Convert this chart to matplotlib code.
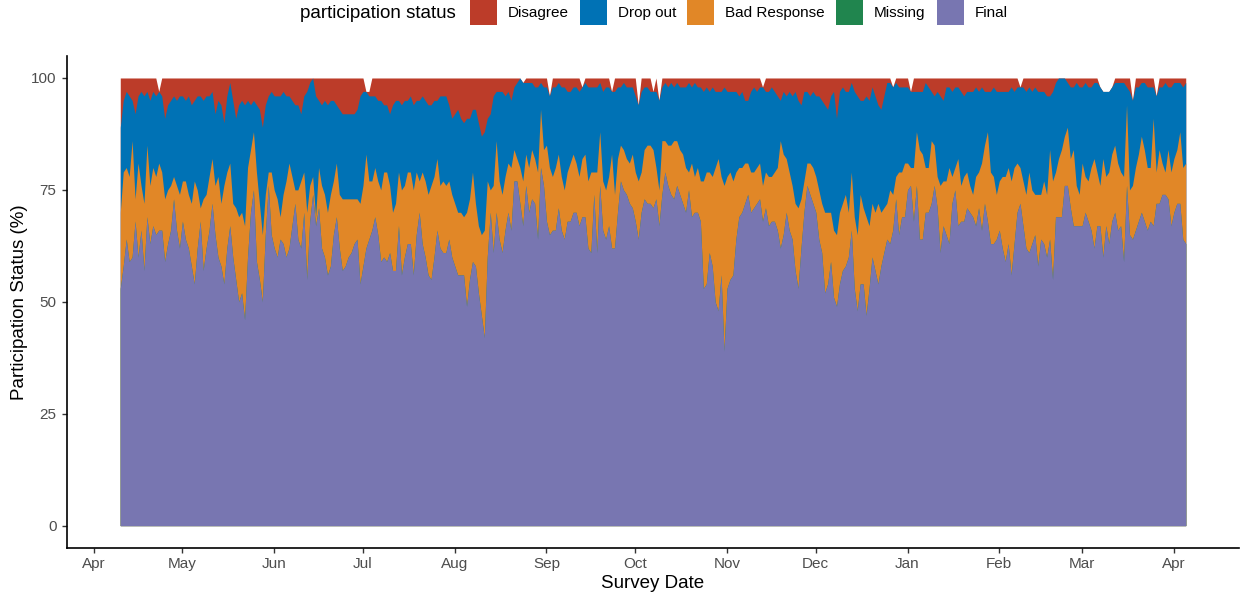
import matplotlib
matplotlib.use('Agg')
import matplotlib.dates as mdates
import matplotlib.pyplot as plt
import numpy as np
import pandas as pd
from matplotlib.patches import Rectangle

plt.rcParams['font.family'] = ['Liberation Sans', 'DejaVu Sans']

START_DATE = '2021-04-10'

# daily participation shares (%), one value per survey day
final = [
    53, 58, 64, 59, 60, 68, 60, 66, 57, 69,
    63, 67, 65, 66, 66, 59, 63, 66, 73, 66,
    62, 68, 64, 62, 58, 54, 62, 68, 57, 62,
    66, 72, 65, 60, 58, 54, 62, 67, 60, 55,
    50, 52, 46, 60, 70, 75, 59, 55, 50, 65,
    76, 65, 62, 60, 64, 63, 60, 62, 67, 72,
    64, 62, 70, 55, 68, 74, 67, 71, 62, 60,
    56, 58, 65, 69, 62, 57, 58, 60, 61, 63,
    64, 54, 58, 62, 64, 66, 69, 65, 59, 60,
    59, 61, 57, 57, 67, 56, 60, 63, 63, 56,
    65, 70, 63, 60, 56, 55, 60, 66, 62, 61,
    61, 64, 60, 58, 56, 56, 56, 49, 55, 59,
    58, 52, 47, 42, 60, 70, 61, 70, 64, 61,
    66, 70, 66, 77, 77, 72, 67, 76, 70, 73,
    72, 64, 80, 76, 68, 65, 66, 66, 71, 66,
    64, 68, 68, 70, 70, 67, 69, 69, 62, 61,
    74, 61, 76, 66, 64, 67, 62, 62, 70, 77,
    75, 74, 72, 71, 68, 64, 70, 73, 72, 72,
    71, 73, 67, 74, 79, 76, 74, 73, 76, 74,
    72, 70, 75, 69, 70, 70, 68, 53, 54, 61,
    58, 50, 48, 56, 39, 53, 55, 56, 64, 69,
    70, 72, 74, 70, 71, 72, 73, 68, 71, 67,
    68, 68, 66, 62, 65, 70, 66, 64, 57, 53,
    62, 70, 76, 74, 72, 70, 64, 61, 52, 54,
    59, 51, 49, 54, 57, 58, 60, 66, 53, 48,
    54, 54, 47, 53, 60, 57, 54, 58, 61, 64,
    63, 66, 73, 65, 69, 69, 75, 76, 68, 76,
    64, 64, 70, 70, 72, 76, 71, 61, 67, 65,
    63, 72, 75, 67, 68, 68, 71, 70, 69, 67,
    71, 66, 72, 68, 63, 63, 64, 66, 62, 59,
    63, 56, 63, 70, 72, 67, 62, 61, 63, 65,
    58, 64, 63, 60, 64, 55, 69, 69, 69, 76,
    76, 71, 67, 67, 67, 67, 70, 68, 66, 62,
    67, 67, 60, 67, 63, 68, 70, 66, 67, 59,
    76, 65, 64, 66, 68, 70, 68, 66, 68, 67,
    72, 72, 74, 74, 73, 67, 70, 72, 72, 64, 63,
]

bad_response = [
    17, 21, 16, 19, 26, 5, 21, 10, 15, 16,
    13, 13, 13, 15, 13, 14, 12, 10, 5, 10,
    12, 9, 13, 12, 14, 23, 13, 3, 16, 12,
    12, 10, 11, 18, 14, 22, 17, 14, 12, 16,
    19, 18, 21, 20, 14, 13, 20, 17, 15, 9,
    3, 14, 13, 13, 5, 11, 17, 19, 11, 3,
    11, 15, 9, 15, 8, 4, 2, 9, 14, 14,
    14, 16, 12, 12, 12, 16, 15, 13, 12, 10,
    9, 18, 18, 21, 13, 11, 11, 12, 16, 19,
    20, 15, 13, 15, 12, 19, 16, 16, 16, 19,
    14, 7, 16, 17, 18, 21, 18, 16, 14, 16,
    15, 13, 14, 14, 14, 14, 13, 21, 18, 20,
    14, 15, 18, 24, 17, 5, 15, 16, 13, 13,
    12, 11, 14, 7, 5, 8, 10, 7, 10, 11,
    10, 15, 13, 8, 17, 15, 12, 14, 12, 12,
    11, 11, 13, 13, 11, 11, 13, 14, 15, 18,
    5, 18, 12, 11, 11, 11, 21, 12, 12, 8,
    9, 8, 9, 12, 11, 13, 9, 11, 13, 13,
    13, 7, 8, 12, 7, 9, 11, 13, 10, 10,
    11, 10, 4, 12, 8, 10, 9, 24, 25, 18,
    20, 30, 34, 22, 37, 25, 24, 21, 15, 11,
    10, 9, 7, 9, 8, 8, 8, 8, 8, 11,
    10, 11, 14, 24, 18, 12, 13, 12, 15, 18,
    11, 7, 5, 7, 8, 8, 11, 11, 18, 16,
    11, 15, 16, 16, 15, 16, 10, 13, 16, 17,
    20, 17, 22, 14, 12, 13, 18, 12, 10, 8,
    12, 8, 5, 14, 10, 12, 6, 4, 12, 12,
    20, 19, 10, 10, 14, 9, 7, 15, 10, 12,
    17, 6, 5, 15, 8, 10, 8, 6, 5, 11,
    8, 15, 13, 20, 16, 15, 10, 11, 16, 19,
    17, 21, 17, 11, 8, 10, 12, 18, 12, 9,
    16, 10, 14, 14, 20, 22, 10, 13, 15, 11,
    13, 11, 17, 9, 7, 14, 8, 9, 14, 20,
    12, 9, 22, 11, 16, 15, 15, 15, 12, 19,
    18, 10, 12, 14, 15, 17, 16, 14, 12, 24,
    7, 12, 7, 5, 11, 12, 12, 12, 16, 16, 18,
]

drop_out = [
    19, 16, 17, 18, 9, 19, 15, 21, 24, 12,
    19, 17, 18, 16, 17, 18, 19, 19, 18, 19,
    22, 19, 18, 22, 22, 18, 21, 25, 22, 22,
    18, 15, 16, 17, 22, 14, 17, 18, 23, 20,
    25, 25, 27, 15, 10, 7, 15, 21, 24, 20,
    17, 18, 21, 23, 27, 23, 19, 15, 17, 19,
    19, 15, 17, 27, 23, 22, 27, 15, 18, 21,
    24, 21, 18, 13, 19, 19, 19, 19, 19, 19,
    20, 24, 21, 14, 19, 19, 16, 18, 20, 15,
    15, 16, 24, 23, 16, 19, 19, 16, 17, 19,
    16, 18, 17, 18, 20, 18, 17, 13, 20, 19,
    20, 17, 17, 20, 23, 21, 21, 21, 18, 14,
    21, 23, 22, 22, 14, 17, 20, 11, 20, 23,
    18, 16, 15, 14, 17, 20, 22, 16, 19, 15,
    16, 19, 6, 14, 13, 16, 20, 18, 16, 20,
    23, 18, 16, 15, 17, 19, 16, 16, 21, 19,
    19, 19, 11, 20, 23, 20, 14, 23, 16, 13,
    15, 16, 17, 15, 17, 17, 18, 14, 13, 12,
    13, 17, 20, 12, 13, 13, 14, 12, 13, 14,
    15, 18, 20, 17, 21, 18, 21, 20, 19, 18,
    20, 17, 15, 19, 22, 19, 18, 20, 18, 16,
    17, 14, 14, 18, 19, 17, 17, 22, 18, 19,
    20, 18, 16, 9, 14, 14, 18, 20, 25, 24,
    21, 20, 16, 15, 17, 18, 21, 23, 24, 23,
    26, 31, 26, 27, 26, 23, 27, 20, 28, 31,
    21, 24, 27, 28, 26, 26, 22, 23, 25, 27,
    24, 24, 21, 19, 19, 17, 17, 17, 17, 9,
    13, 14, 19, 18, 11, 11, 19, 20, 18, 21,
    18, 19, 18, 16, 21, 18, 18, 21, 23, 20,
    18, 17, 12, 9, 18, 20, 23, 20, 19, 19,
    17, 21, 17, 17, 18, 21, 23, 19, 22, 24,
    23, 23, 20, 22, 12, 20, 20, 18, 16, 13,
    10, 16, 14, 23, 24, 17, 21, 21, 18, 17,
    20, 22, 15, 19, 18, 15, 14, 18, 20, 21,
    4, 22, 19, 18, 15, 12, 15, 18, 18, 7,
    17, 14, 17, 20, 14, 19, 17, 15, 11, 18, 18,
]

disagree = [
    11, 5, 3, 4, 5, 8, 4, 3, 4, 3,
    5, 3, 4, 0, 4, 9, 6, 5, 4, 5,
    4, 4, 5, 4, 6, 5, 4, 4, 5, 4,
    4, 3, 8, 5, 6, 10, 4, 1, 5, 9,
    6, 5, 6, 5, 6, 5, 6, 7, 11, 6,
    4, 3, 4, 4, 4, 3, 4, 4, 5, 6,
    6, 8, 4, 3, 1, 0, 4, 5, 6, 5,
    6, 5, 5, 6, 7, 8, 8, 8, 8, 8,
    7, 4, 3, 0, 1, 4, 4, 5, 5, 6,
    6, 8, 6, 5, 5, 6, 5, 5, 4, 6,
    5, 5, 4, 5, 6, 6, 5, 5, 4, 4,
    4, 6, 9, 8, 7, 9, 10, 9, 9, 7,
    7, 10, 13, 12, 9, 8, 4, 3, 3, 3,
    4, 3, 5, 2, 1, 0, 0, 1, 1, 1,
    2, 2, 1, 2, 2, 0, 2, 2, 1, 2,
    2, 3, 3, 2, 2, 3, 0, 1, 2, 2,
    2, 2, 1, 3, 2, 2, 0, 3, 2, 2,
    1, 2, 2, 2, 4, 0, 3, 2, 2, 3,
    0, 3, 0, 2, 1, 2, 1, 2, 1, 2,
    2, 2, 1, 2, 1, 2, 2, 3, 2, 3,
    2, 3, 3, 3, 2, 3, 3, 3, 3, 4,
    3, 5, 5, 3, 2, 3, 2, 0, 3, 3,
    2, 3, 4, 5, 3, 4, 3, 4, 3, 5,
    6, 3, 3, 4, 3, 4, 4, 5, 6, 7,
    4, 3, 9, 3, 2, 3, 3, 1, 3, 4,
    5, 5, 4, 5, 2, 4, 6, 7, 4, 1,
    1, 0, 1, 2, 2, 2, 2, 0, 3, 3,
    3, 3, 1, 2, 3, 4, 3, 4, 5, 2,
    2, 3, 2, 2, 3, 4, 3, 3, 3, 2,
    3, 2, 3, 3, 3, 2, 3, 3, 3, 3,
    3, 2, 3, 2, 0, 2, 3, 2, 3, 2,
    3, 3, 3, 4, 4, 3, 1, 0, 0, 0,
    1, 2, 2, 1, 2, 2, 1, 2, 2, 1,
    1, 0, 0, 0, 0, 0, 1, 1, 1, 1,
    2, 3, 0, 2, 2, 1, 1, 2, 2, 2,
    0, 2, 2, 1, 2, 2, 1, 1, 1, 2, 1,
]

missing = [0] * len(final)

# legend order (top of stack first)
LABELS = ['Disagree', 'Drop out', 'Bad Response', 'Missing', 'Final']
COLORS = ['#BC3C29', '#0072B5', '#E18727', '#20854E', '#7876B1']

W, H = 1240, 592


def draw_legend(fig):
    fig.text(300 / W, 1 - 13 / H, 'participation status', fontsize=13.5,
             ha='left', va='center')
    key_x = [470, 580, 687, 836, 937]
    text_x = [508, 618, 725, 874, 975]
    for label, color, kx, tx in zip(LABELS, COLORS, key_x, text_x):
        fig.add_artist(Rectangle((kx / W, 1 - 25 / H), 27 / W, 28 / H,
                                 transform=fig.transFigure, facecolor=color,
                                 edgecolor='none'))
        fig.text(tx / W, 1 - 13 / H, label, fontsize=11, ha='left', va='center')


def plot_participation():
    series = [final, missing, bad_response, drop_out, disagree]
    for s in series:
        assert len(s) == len(final)
    dates = pd.date_range(START_DATE, periods=len(final), freq='D')
    stacked = np.cumsum(np.array(series, dtype=float), axis=0)

    fig = plt.figure(figsize=(W / 100, H / 100), dpi=100)
    ax = fig.add_axes([67 / W, 44 / H, 1172 / W, 492.4 / H])

    # paint from the top layer down so no seams show between areas
    bottom_up_colors = COLORS[::-1]
    for level in range(len(series) - 1, -1, -1):
        ax.fill_between(dates, 0, stacked[level], color=bottom_up_colors[level],
                        linewidth=0)

    pad = pd.Timedelta(days=0.05 * (len(final) - 1))
    ax.set_xlim(dates[0] - pad, dates[-1] + pad)
    ax.set_ylim(-5, 105)
    ax.set_yticks([0, 25, 50, 75, 100])

    ax.xaxis.set_major_locator(mdates.MonthLocator())
    ax.xaxis.set_major_formatter(mdates.DateFormatter('%b'))

    for side in ['top', 'right']:
        ax.spines[side].set_visible(False)
    for side in ['left', 'bottom']:
        ax.spines[side].set_linewidth(1.2)
        ax.spines[side].set_color('black')

    ax.tick_params(axis='both', length=3.5, width=1, color='#333333',
                   labelcolor='#4D4D4D', labelsize=11)
    ax.tick_params(axis='y', pad=4)
    ax.tick_params(axis='x', pad=3)

    ax.set_xlabel('Survey Date', fontsize=13.5, labelpad=3)
    ax.set_ylabel('Participation Status (%)', fontsize=13.5, labelpad=2)

    draw_legend(fig)
    fig.savefig('out.png', dpi=100)


plot_participation()
